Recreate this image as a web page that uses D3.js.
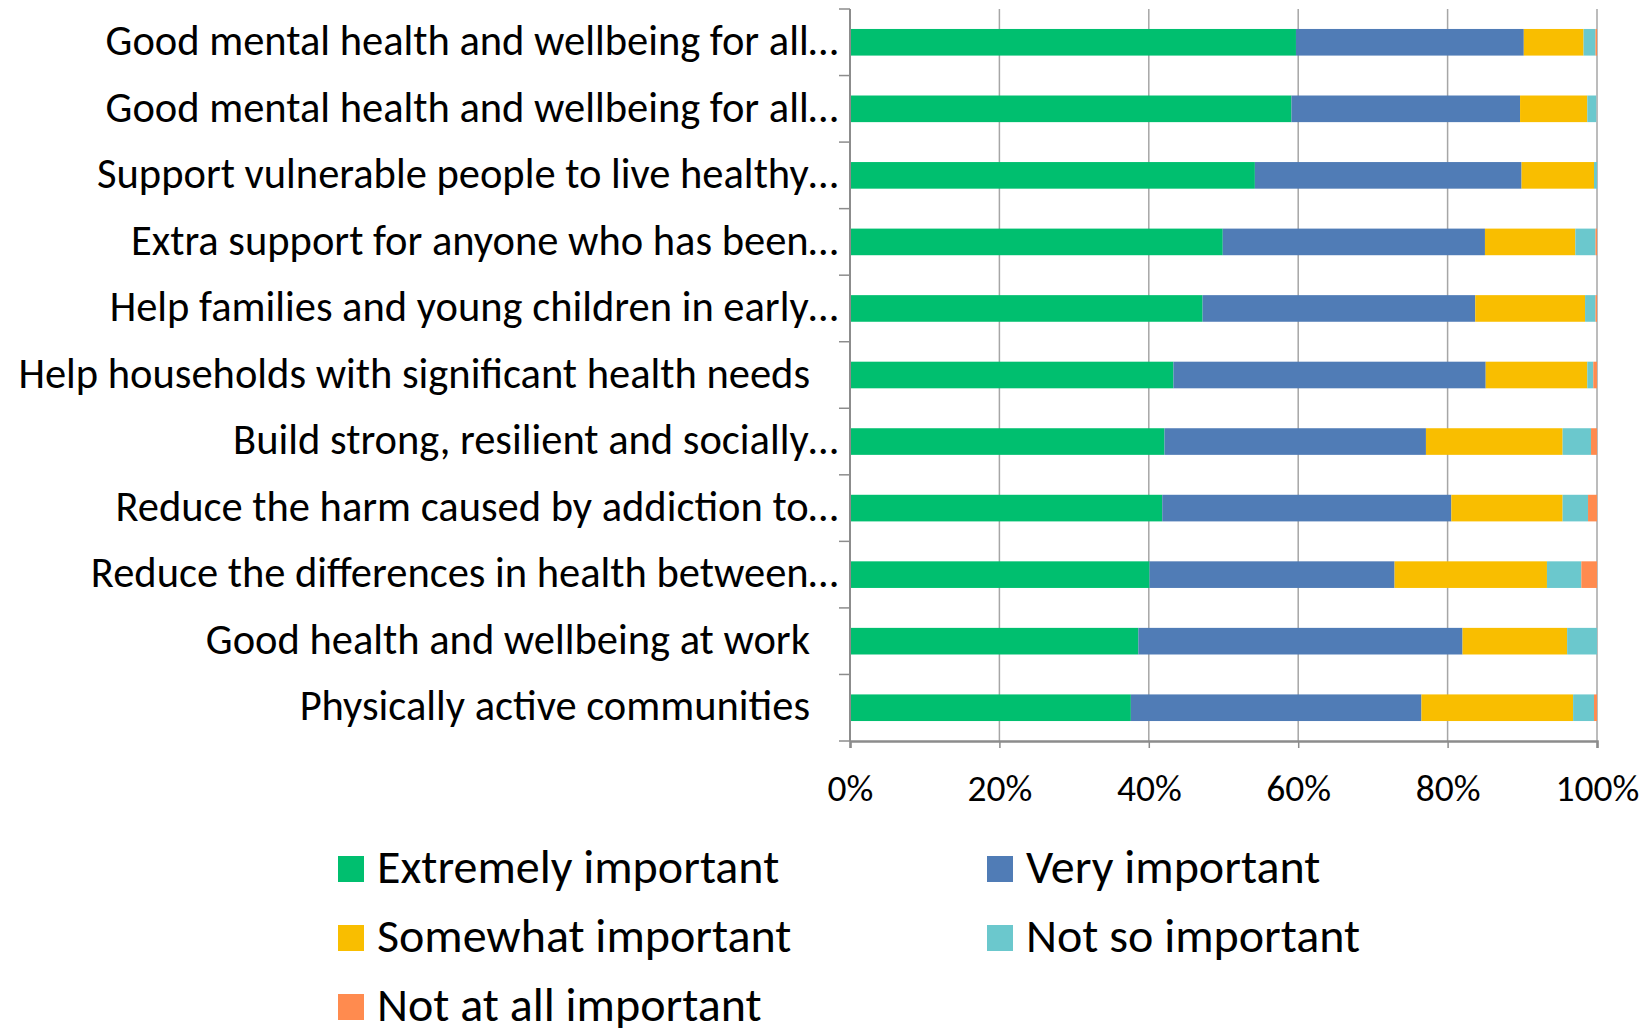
<!DOCTYPE html>
<html>
<head>
<meta charset="utf-8">
<script src="https://cdn.jsdelivr.net/npm/d3@7"></script>
<style>
  body { margin: 0; background: #fff; }
  text { font-family: Carlito, Calibri, Lato, sans-serif; fill: #000; }
</style>
</head>
<body>
<svg width="1645" height="1028"></svg>
<script>
// categories, top to bottom
var categories = [
  "Good mental health and wellbeing for all…",
  "Good mental health and wellbeing for all…",
  "Support vulnerable people to live healthy…",
  "Extra support for anyone who has been…",
  "Help families and young children in early…",
  "Help households with significant health needs",
  "Build strong, resilient and socially…",
  "Reduce the harm caused by addiction to…",
  "Reduce the differences in health between…",
  "Good health and wellbeing at work",
  "Physically active communities"
];
var seriesNames = ["Extremely important", "Very important", "Somewhat important", "Not so important", "Not at all important"];
// percentages per series, same order as categories
var extremely = [59.7, 59.1, 54.2, 49.9, 47.2, 43.3, 42.1, 41.8, 40.1, 38.6, 37.6];
var very      = [30.5, 30.6, 35.7, 35.1, 36.5, 41.8, 35.0, 38.7, 32.8, 43.4, 38.9];
var somewhat  = [ 8.0,  9.0,  9.7, 12.1, 14.7, 13.6, 18.3, 14.9, 20.4, 14.0, 20.3];
var notSo     = [ 1.6,  1.2,  0.4,  2.7,  1.4,  0.8,  3.8,  3.4,  4.6,  4.0,  2.8];
var notAtAll  = [ 0.2,  0.0,  0.0,  0.2,  0.2,  0.5,  0.8,  1.2,  2.1,  0.0,  0.4];
var xTicks = [0, 20, 40, 60, 80, 100];

var colors = ["#00BF6F", "#507CB6", "#F9BE00", "#6BC8CD", "#FF8B4F"];
var allSeries = [extremely, very, somewhat, notSo, notAtAll];

var rows = categories.map(function (c, i) {
  var r = { idx: i, label: c };
  seriesNames.forEach(function (s, k) { r[s] = allSeries[k][i]; });
  return r;
});

var svg = d3.select("svg");
var plotLeft = 850, plotRight = 1597, plotTop = 9, plotBottom = 741;

var x = d3.scaleLinear().domain([0, 100]).range([plotLeft, plotRight]);
var y = d3.scaleBand().domain(d3.range(categories.length)).range([plotTop, plotBottom]).paddingInner(0.6).paddingOuter(0.3);

// gridlines
svg.append("g")
  .selectAll("line")
  .data(xTicks.slice(1))
  .enter()
  .append("line")
    .attr("x1", d => x(d)).attr("x2", d => x(d))
    .attr("y1", plotTop).attr("y2", plotBottom)
    .style("stroke", "#a6a6a6").style("stroke-width", 1.5);

// stacked bars
var stack = d3.stack().keys(seriesNames)(rows);
svg.append("g")
  .selectAll("g")
  .data(stack)
  .enter()
  .append("g")
    .style("fill", (d, i) => colors[i])
  .selectAll("rect")
  .data(d => d)
  .enter()
  .append("rect")
    .attr("x", d => x(d[0]))
    .attr("width", d => x(d[1]) - x(d[0]))
    .attr("y", d => y(d.data.idx))
    .attr("height", y.bandwidth());

// x axis
var xAxis = d3.axisBottom(x)
  .tickValues(xTicks)
  .tickSize(7)
  .tickPadding(26)
  .tickFormat(d => d + "%");
var xg = svg.append("g")
  .attr("transform", `translate(0,${plotBottom})`)
  .call(xAxis);
xg.select(".domain").style("stroke", "#8c8c8c").style("stroke-width", 2.5);
xg.selectAll(".tick line").style("stroke", "#8c8c8c").style("stroke-width", 1.5);
xg.selectAll(".tick text").style("font-size", "37.5px").style("font-family", null);

// y axis: line plus ticks at category boundaries
var step = (plotBottom - plotTop) / categories.length;
svg.append("line")
  .attr("x1", plotLeft).attr("x2", plotLeft).attr("y1", plotTop).attr("y2", plotBottom)
  .style("stroke", "#8c8c8c").style("stroke-width", 2);
svg.append("g")
  .selectAll("line")
  .data(d3.range(categories.length + 1))
  .enter()
  .append("line")
    .attr("x1", plotLeft - 11).attr("x2", plotLeft)
    .attr("y1", d => plotTop + d * step).attr("y2", d => plotTop + d * step)
    .style("stroke", "#8c8c8c").style("stroke-width", 1.5);

// category labels (full labels sit a little further left, as in the source)
svg.append("g")
  .selectAll("text")
  .data(rows)
  .enter()
  .append("text")
    .attr("x", d => d.label.endsWith("…") ? 838 : 810)
    .attr("y", d => y(d.idx) + y.bandwidth() / 2)
    .attr("dy", "0.3em")
    .attr("text-anchor", "end")
    .style("font-size", "42.5px")
    .text(d => d.label);

// legend
var legend = svg.append("g")
  .selectAll("g")
  .data(seriesNames)
  .enter()
  .append("g")
    .attr("transform", (d, i) => `translate(${i % 2 === 0 ? 338 : 987},${869 + Math.floor(i / 2) * 69})`);
legend.append("rect")
  .attr("x", 0).attr("y", -13).attr("width", 26).attr("height", 26)
  .style("fill", (d, i) => colors[i]);
legend.append("text")
  .attr("x", 39).attr("dy", "0.3em")
  .style("font-size", "48px")
  .text(d => d);
</script>
</body>
</html>
